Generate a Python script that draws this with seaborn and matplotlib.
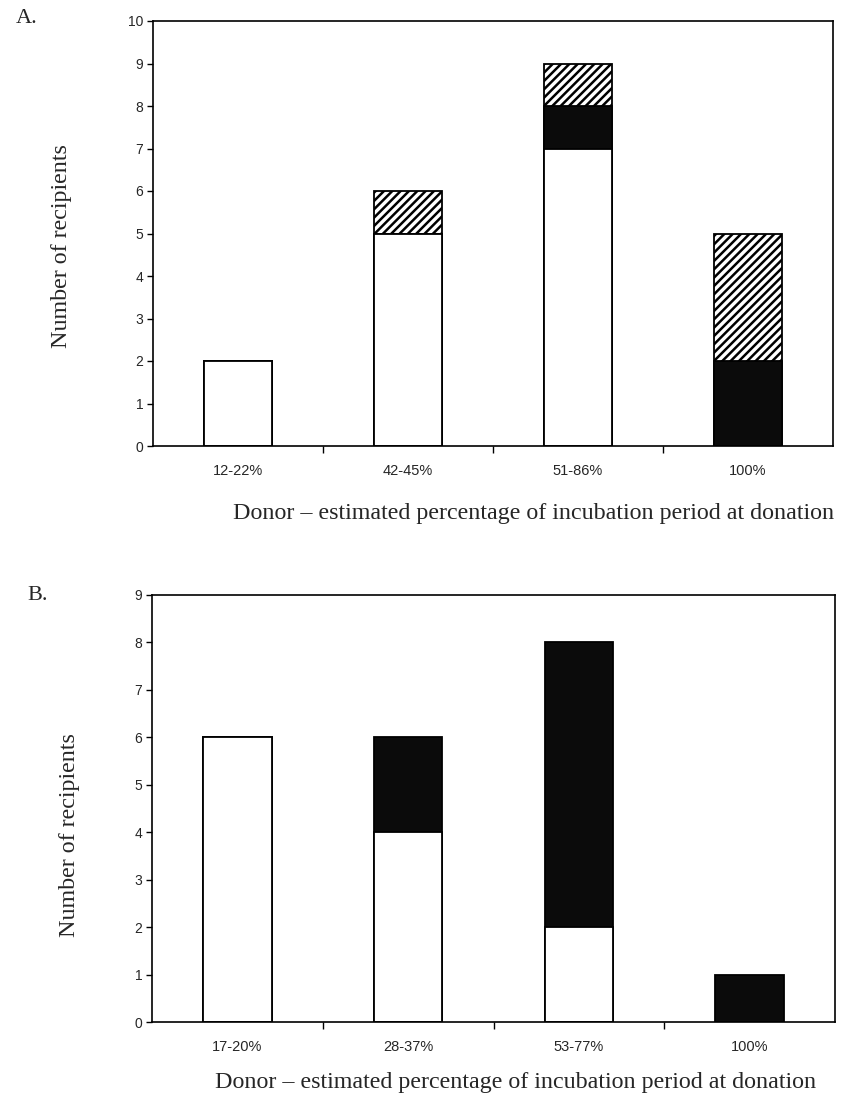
import matplotlib
matplotlib.use("Agg")
import matplotlib.pyplot as plt
import seaborn as sns
import numpy as np

# ---- data ----
cats_a = ["12-22%", "42-45%", "51-86%", "100%"]
white_a = [2, 5, 7, 0]
black_a = [0, 0, 1, 2]
hatch_a = [0, 1, 1, 3]

cats_b = ["17-20%", "28-37%", "53-77%", "100%"]
white_b = [6, 4, 2, 0]
black_b = [0, 2, 6, 1]
hatch_b = [0, 0, 0, 0]

xlabel_text = "Donor \u2013 estimated percentage of incubation period at donation"
ylabel_text = "Number of recipients"

sns.set_theme(style="white")
plt.rcParams["font.family"] = ["Liberation Sans", "DejaVu Sans"]
plt.rcParams["hatch.linewidth"] = 1.8
plt.rcParams["hatch.color"] = "black"

fig = plt.figure(figsize=(8.5, 11.07), dpi=100)
fig.patch.set_facecolor("white")

ax_a = fig.add_axes([153/850, 1-446/1107, 680/850, 425/1107])
ax_b = fig.add_axes([152/850, 1-1022/1107, 683/850, 427/1107])

BLACK = "#0b0b0b"
SERIF = ["Liberation Serif", "DejaVu Serif"]


def draw_panel(ax, cats, white, black, hatch, ymax, xl_coords, yl_coords):
    white = np.array(white)
    black = np.array(black)
    hatch = np.array(hatch)
    tot_wb = white + black
    tot = tot_wb + hatch
    if hatch.sum() > 0:
        sns.barplot(x=cats, y=tot, color="white", saturation=1, width=0.4,
                    edgecolor="black", linewidth=1.3, hatch="////", ax=ax)
    sns.barplot(x=cats, y=tot_wb, color=BLACK, saturation=1, width=0.4,
                edgecolor="black", linewidth=1.3, ax=ax)
    sns.barplot(x=cats, y=white, color="white", saturation=1, width=0.4,
                edgecolor="black", linewidth=1.3, ax=ax)
    ax.set_xlim(-0.5, 3.5)
    ax.set_ylim(0, ymax)
    ax.set_yticks(range(0, ymax + 1))
    ax.set_yticklabels([str(v) for v in range(0, ymax + 1)], fontsize=10)
    ax.set_xticks(range(len(cats)))
    ax.set_xticklabels(cats, fontsize=10.5)
    ax.set_xticks([0.5, 1.5, 2.5], minor=True)
    ax.tick_params(axis="x", which="major", length=0, pad=13)
    ax.tick_params(axis="x", which="minor", length=5, width=1.0, direction="out", color="black", bottom=True)
    ax.tick_params(axis="y", which="major", length=4, width=1.0, direction="out", color="black", left=True, pad=3)
    for s in ax.spines.values():
        s.set_visible(True)
        s.set_color("black")
        s.set_linewidth(1.2)
    ax.set_facecolor("white")
    ax.set_xlabel(xlabel_text, fontsize=17.3, family=SERIF)
    ax.xaxis.set_label_coords(*xl_coords)
    ax.set_ylabel(ylabel_text, fontsize=17.3, family=SERIF)
    ax.yaxis.set_label_coords(*yl_coords)


draw_panel(ax_a, cats_a, white_a, black_a, hatch_a, 10,
           (0.56, -0.134), (-0.119, 0.47))
draw_panel(ax_b, cats_b, white_b, black_b, hatch_b, 9,
           (0.533, -0.118), (-0.105, 0.438))

fig.text(16/850, 1-23/1107, "A.", fontsize=16, family=SERIF, va="baseline", ha="left")
fig.text(27/850, 1-600/1107, "B.", fontsize=16, family=SERIF, va="baseline", ha="left")

fig.savefig("out.png", dpi=100, facecolor="white")
